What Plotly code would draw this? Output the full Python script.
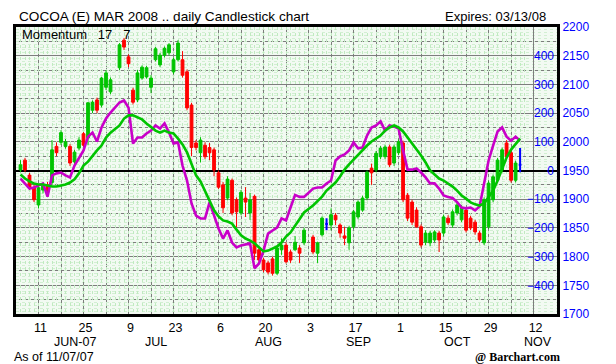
import numpy as np
import pandas as pd
import plotly.graph_objects as go

# ---------------- data ----------------
holidays = ["2007-07-04", "2007-09-03"]
dates = [d.strftime("%Y-%m-%d") for d in pd.bdate_range("2007-06-05", "2007-11-07")
         if d.strftime("%Y-%m-%d") not in holidays]

open_ = [1951, 1968, 1942, 1920, 1890, 1916, 1925, 1929, 1992, 1999, 1992, 1992, 1965, 1989, 2014, 2007, 2055, 2073, 2064, 2095, 2087,
         2129, 2177, 2148, 2090, 2073, 2111, 2113, 2095, 2143, 2134, 2151, 2155, 2122, 2143, 2143, 2122, 2064, 1998, 1981, 1994, 1990, 1986,
         1946, 1925, 1902, 1933, 1899, 1876, 1902, 1876, 1905, 1812, 1794, 1789, 1796, 1771, 1812, 1820, 1808, 1812, 1815, 1824,
         1834, 1806, 1838, 1857, 1855, 1872, 1855, 1836, 1824, 1852, 1869, 1881, 1902, 1954, 1951, 1974, 1974, 1991, 1963, 1981,
         1998, 1907, 1895, 1881, 1852, 1825, 1824, 1829, 1841, 1841, 1867, 1855, 1876, 1864, 1881, 1867, 1860, 1841, 1824, 1852,
         1899, 1933, 1951, 1998, 1981, 1933, 1960]
high = [1968, 1972, 1946, 1925, 1925, 1929, 1930, 2003, 1999, 2020, 2005, 1996, 1986, 2008, 2017, 2069, 2072, 2077, 2113, 2125, 2112,
        2172, 2181, 2152, 2094, 2125, 2133, 2132, 2116, 2165, 2155, 2166, 2172, 2147, 2177, 2158, 2126, 2068, 2003, 2008, 1999, 1998, 1990,
        1950, 1930, 1940, 1936, 1903, 1916, 1921, 1911, 1908, 1816, 1798, 1793, 1800, 1818, 1832, 1825, 1812, 1836, 1820, 1850,
        1838, 1826, 1870, 1867, 1884, 1876, 1858, 1852, 1853, 1881, 1898, 1906, 1950, 1962, 1984, 1993, 1995, 1995, 1995, 2004,
        2002, 1911, 1899, 1886, 1856, 1846, 1845, 1846, 1845, 1873, 1872, 1882, 1894, 1890, 1885, 1871, 1864, 1845, 1903, 1932,
        1943, 1972, 1990, 2003, 1985, 1967, 1989]
low = [1947, 1947, 1916, 1895, 1884, 1910, 1905, 1925, 1975, 1995, 1988, 1958, 1960, 1985, 1990, 1994, 2050, 2050, 2060, 2090, 2083,
       2125, 2160, 2130, 2065, 2069, 2108, 2110, 2085, 2140, 2130, 2147, 2150, 2118, 2140, 2112, 2055, 1975, 1985, 1964, 1970, 1968, 1940,
       1918, 1876, 1898, 1872, 1851, 1872, 1869, 1864, 1794, 1790, 1773, 1769, 1767, 1768, 1803, 1788, 1789, 1810, 1789, 1820,
       1804, 1789, 1835, 1846, 1846, 1855, 1833, 1820, 1812, 1848, 1865, 1878, 1898, 1925, 1947, 1970, 1970, 1956, 1958, 1977,
       1895, 1862, 1855, 1850, 1816, 1820, 1818, 1825, 1808, 1836, 1855, 1850, 1872, 1860, 1842, 1846, 1838, 1825, 1820, 1848,
       1895, 1929, 1947, 1970, 1929, 1929, 1947]
close = [1960, 1951, 1920, 1899, 1920, 1925, 1912, 1986, 1981, 2016, 2000, 1963, 1982, 2003, 1994, 2068, 2069, 2055, 2111, 2120, 2108,
         2169, 2165, 2136, 2069, 2120, 2130, 2129, 2111, 2162, 2151, 2163, 2169, 2143, 2172, 2116, 2059, 1990, 1990, 2003, 1974, 1981, 1951,
         1921, 1885, 1935, 1876, 1878, 1912, 1895, 1899, 1806, 1794, 1777, 1773, 1771, 1815, 1820, 1791, 1794, 1825, 1806, 1846,
         1808, 1824, 1867, 1857, 1873, 1864, 1841, 1832, 1850, 1878, 1895, 1902, 1947, 1946, 1980, 1989, 1991, 1960, 1991, 2000,
         1899, 1867, 1860, 1852, 1820, 1841, 1841, 1843, 1829, 1869, 1859, 1878, 1890, 1886, 1846, 1850, 1843, 1829, 1899, 1928,
         1939, 1968, 1986, 1974, 1933, 1963, 1960]

momentum = [-28, -45, -63, -59, -52, -45, -91, -17, -10, -7, -17, -24, 17, 45, 70, 118, 132, 101, 150, 181, 202,
            237, 244, 219, 94, 115, 115, 129, 139, 157, 146, 164, 132, 94, 98, 17, -35, -115, -157, -167, -167, -111, -157,
            -202, -237, -209, -251, -268, -261, -258, -254, -341, -324, -279, -220, -209, -199, -167, -174, -129, -85, -92, -92,
            -63, -59, -59, -45, -35, 35, 49, 56, 70, 98, 77, 80, 122, 150, 157, 171, 139, 157, 153, 146,
            70, 3, 3, 7, -7, -24, -45, -45, -63, -87, -92, -96, -110, -129, -132, -129, -139, -125, -45, 35,
            87, 136, 150, 118, 104, 118, 104]
signal = [-14, -28, -38, -45, -49, -49, -52, -56, -56, -52, -49, -42, -31, -10, 17, 31, 52, 70, 87, 115, 132,
          157, 181, 192, 192, 185, 178, 164, 150, 139, 132, 139, 132, 129, 111, 91, 63, 24, -17, -38, -73, -106, -139,
          -160, -174, -178, -185, -206, -226, -237, -244, -254, -268, -282, -279, -272, -265, -251, -230, -216, -192, -171, -146,
          -122, -105, -91, -70, -56, -42, -21, 3, 21, 38, 56, 73, 87, 101, 111, 122, 139, 150, 157, 150,
          136, 115, 98, 77, 52, 28, 0, -14, -28, -35, -45, -56, -70, -87, -98, -111, -118, -122, -115, -94,
          -70, -35, 7, 45, 73, 94, 111]

tick_dates = ["2007-06-11", "2007-06-25", "2007-07-09", "2007-07-23", "2007-08-06", "2007-08-20",
              "2007-09-03", "2007-09-17", "2007-10-01", "2007-10-15", "2007-10-29", "2007-11-12"]
tick_text = ["11", "25", "9", "23", "6", "20", "3", "17", "1", "15", "29", "12"]
month_dates = ["2007-06-21", "2007-07-17", "2007-08-21", "2007-09-18", "2007-10-18", "2007-11-13"]
month_text = ["JUN-07", "JUL", "AUG", "SEP", "OCT", "NOV"]
price_ticks = list(range(1700, 2201, 50))
mom_ticks = list(range(-400, 401, 100))

# ---------------- positions (weekday index axis) ----------------
START = "2007-06-04"
xi = np.busday_count(START, dates)
tick_x = np.busday_count(START, tick_dates)
month_x = np.busday_count(START, month_dates)
XR = [0, 120.2]

o = np.array(open_); h = np.array(high); l = np.array(low); c = np.array(close)
flat = o == c

GREEN = "#00c400"
RED = "#ff0000"
PURPLE = "#c800c8"
BLUE = "#0000ff"
GRID = "#7d7d7d"
DOT = "#c0eac0"
FONT = "Liberation Sans, Arial, sans-serif"

fig = go.Figure()
fig.add_trace(go.Candlestick(
    x=xi[~flat], open=o[~flat], high=h[~flat], low=l[~flat], close=c[~flat],
    increasing=dict(line=dict(color=GREEN, width=1), fillcolor=GREEN),
    decreasing=dict(line=dict(color=RED, width=1), fillcolor=RED),
    whiskerwidth=0, showlegend=False, hoverinfo="skip"))
fig.add_trace(go.Candlestick(
    x=xi[flat], open=o[flat], high=h[flat], low=l[flat], close=c[flat],
    increasing=dict(line=dict(color=BLUE, width=2), fillcolor=BLUE),
    decreasing=dict(line=dict(color=BLUE, width=2), fillcolor=BLUE),
    whiskerwidth=0, showlegend=False, hoverinfo="skip"))
fig.add_trace(go.Scatter(x=xi, y=momentum, xaxis="x2", yaxis="y2", mode="lines",
                         line=dict(color=PURPLE, width=2.6), showlegend=False, hoverinfo="skip"))
fig.add_trace(go.Scatter(x=xi, y=signal, xaxis="x2", yaxis="y2", mode="lines",
                         line=dict(color=GREEN, width=2.6), showlegend=False, hoverinfo="skip"))

L, R, T, B = 16, 59, 27, 50
W, H = 616, 364
pw, ph = W - L - R, H - T - B
def px(x): return (x - L) / pw
def py(y): return (H - B - y) / ph

fig.update_layout(
    width=W, height=H, margin=dict(l=L, r=R, t=T, b=B, autoexpand=False),
    paper_bgcolor="white", plot_bgcolor="#f2faf2", boxgap=0.12,
    font=dict(family=FONT, size=13, color="black"),
    xaxis=dict(range=XR, tickmode="array", tickvals=tick_x, ticktext=tick_text, automargin=False,
               showgrid=True, gridcolor=GRID, gridwidth=1, ticklabelshift=2, ticklabelstandoff=0,
               minor=dict(tick0=0, dtick=5, showgrid=True, gridcolor=GRID, gridwidth=1),
               rangeslider=dict(visible=False), showline=True, mirror=True,
               linecolor="black", linewidth=3, ticks="", zeroline=False,
               tickfont=dict(size=12.5, color="black")),
    yaxis=dict(range=[1700, 2200], side="right", tickmode="array", tickvals=price_ticks, automargin=False,
               showgrid=True, gridcolor=GRID, gridwidth=1,
               minor=dict(tick0=1700, dtick=25, showgrid=True, gridcolor=GRID, gridwidth=1),
               showline=True, mirror=True, linecolor="black", linewidth=3, ticks="",
               zeroline=False, tickfont=dict(size=12, color=BLUE)),
    xaxis2=dict(range=XR, overlaying="x", showticklabels=False, showgrid=True, automargin=False,
                dtick=1, tick0=0, gridcolor=DOT, gridwidth=1, griddash="dot", zeroline=False),
    yaxis2=dict(range=[-500, 500], overlaying="y", side="right", tickmode="array", automargin=False,
                tickvals=mom_ticks, ticklabelposition="inside", showgrid=False,
                minor=dict(tick0=0, dtick=10, showgrid=True, gridcolor="#d2efd2", gridwidth=1, griddash="dot"),
                zeroline=True, zerolinecolor="black", zerolinewidth=2, ticks="",
                tickfont=dict(size=12, color=BLUE)),
)

ann = [
    dict(text="COCOA (E) MAR 2008 .. daily Candlestick chart", x=px(17), y=py(16), xanchor="left",
         font=dict(family=FONT, size=13.6, color="black")),
    dict(text="Expires: 03/13/08", x=px(548), y=py(16), xanchor="right"),
    dict(text="Momentum&nbsp;&nbsp;&nbsp;17&nbsp;&nbsp;&nbsp;7", x=px(20), y=py(34), xanchor="left"),
    dict(text="As of 11/07/07", x=px(12), y=py(357), xanchor="left",
         font=dict(family=FONT, size=12.5, color="black")),
    dict(text="<b>@ Barchart.com</b>", x=px(562), y=py(357), xanchor="right",
         font=dict(family="Liberation Serif, Times New Roman, serif", size=12, color="black")),
]
for a in ann:
    fig.add_annotation(xref="paper", yref="paper", yanchor="middle", showarrow=False,
                       font=a.pop("font", dict(family=FONT, size=13, color="black")), **a)
for mx, mt in zip(month_x, month_text):
    fig.add_annotation(x=mx, xref="x", y=py(342), yref="paper", text=mt, showarrow=False,
                       yanchor="middle", font=dict(family=FONT, size=12.5, color="black"))

fig.write_html("out.html", config={"displayModeBar": False},
               post_script="document.body.style.margin='0px';document.body.style.padding='0px';")
